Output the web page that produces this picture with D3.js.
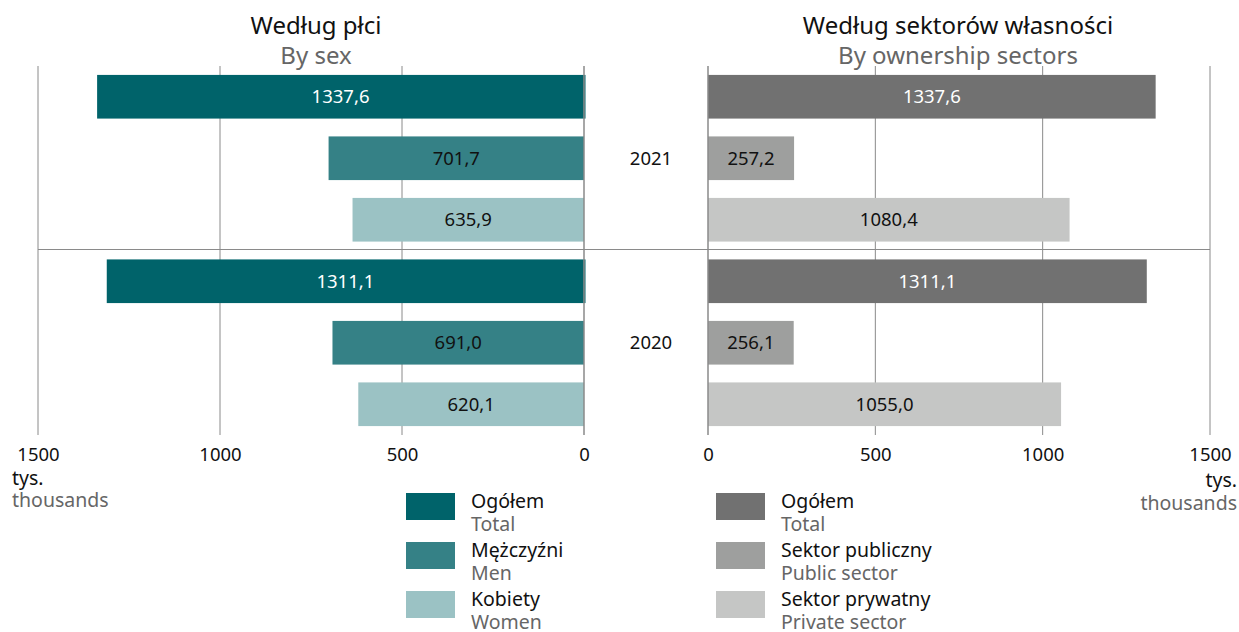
<!DOCTYPE html>
<html lang="pl">
<head>
<meta charset="utf-8">
<title>Pracujący</title>
<script src="https://d3js.org/d3.v7.min.js"></script>
<style>
  body { margin: 0; background: #fff; }
  text { font-family: "Noto Sans", "Open Sans", sans-serif; }
</style>
</head>
<body>
<svg id="chart" width="1239" height="632"></svg>
<script>
// data
var years = ["2021", "2020"];
var sexKeys = ["Ogółem", "Mężczyźni", "Kobiety"];
var sexKeysEn = ["Total", "Men", "Women"];
var sectorKeys = ["Ogółem", "Sektor publiczny", "Sektor prywatny"];
var sectorKeysEn = ["Total", "Public sector", "Private sector"];
var sex2021 = [1337.6, 701.7, 635.9];
var sex2020 = [1311.1, 691.0, 620.1];
var sector2021 = [1337.6, 257.2, 1080.4];
var sector2020 = [1311.1, 256.1, 1055.0];
var ticks = [0, 500, 1000, 1500];

var sexColors = ["#00636a", "#358186", "#9bc2c4"];
var sectorColors = ["#717171", "#9e9f9e", "#c5c6c5"];

var svg = d3.select("#chart");
var fmt = function(v) { return d3.format(".1f")(v).replace(".", ","); };
var fs = 18.5;

// rows: year x category
var rows = [];
years.forEach(function(y) {
  sexKeys.forEach(function(k, i) { rows.push(y + "|" + i); });
});

var yScale = d3.scaleBand().domain(rows).range([66, 435]).paddingInner(0.29).paddingOuter(0.145);

var xLeft = d3.scaleLinear().domain([0, 1500]).range([584, 38]);
var xRight = d3.scaleLinear().domain([0, 1500]).range([708, 1210]);

var gridColor = "#8a8a8a";

// grid lines
[xLeft, xRight].forEach(function(x) {
  svg.append("g").selectAll("line").data(ticks.filter(function(t){ return t > 0; })).join("line")
    .attr("x1", function(d){ return x(d); }).attr("x2", function(d){ return x(d); })
    .attr("y1", 66).attr("y2", 435)
    .attr("stroke", gridColor).attr("stroke-width", 1);
});

// horizontal separator
svg.append("line").attr("x1", 38).attr("x2", 1210).attr("y1", 249.5).attr("y2", 249.5)
  .attr("stroke", gridColor).attr("stroke-width", 1);

function drawPanel(x, data, colors, left) {
  var g = svg.append("g");
  var items = [];
  years.forEach(function(y, yi) {
    data[yi].forEach(function(v, i) {
      items.push({ key: y + "|" + i, v: v, i: i });
    });
  });
  g.selectAll("rect").data(items).join("rect")
    .attr("x", function(d){ return left ? x(d.v) : x(0); })
    .attr("width", function(d){ return Math.abs(x(d.v) - x(0)) + (d.i === 0 && left ? 1.5 : 0); })
    .attr("y", function(d){ return yScale(d.key); })
    .attr("height", yScale.bandwidth())
    .attr("fill", function(d){ return colors[d.i]; });
  g.selectAll("text").data(items).join("text")
    .attr("x", function(d){ return (x(d.v) + x(0)) / 2; })
    .attr("y", function(d){ return yScale(d.key) + yScale.bandwidth() / 2; })
    .attr("dy", "0.35em")
    .attr("text-anchor", "middle")
    .attr("font-size", fs)
    .attr("fill", function(d){ return d.i === 0 ? "#ffffff" : "#111"; })
    .text(function(d){ return fmt(d.v); });
  // zero axis
  g.append("line").attr("x1", x(0)).attr("x2", x(0)).attr("y1", 66).attr("y2", 435)
    .attr("stroke", gridColor).attr("stroke-width", 1.5);
  // tick labels
  var axis = d3.axisBottom(x).tickValues(ticks).tickFormat(d3.format("d")).tickSize(0).tickPadding(0);
  var ax = svg.append("g").attr("transform", "translate(0,448)").call(axis);
  ax.select(".domain").remove();
  ax.selectAll("text").attr("font-size", fs).attr("fill", "#111")
    .attr("font-family", "'Noto Sans', sans-serif").attr("dy", "0.71em");
}

drawPanel(xLeft, [sex2021, sex2020], sexColors, true);
drawPanel(xRight, [sector2021, sector2020], sectorColors, false);

// year labels
years.forEach(function(y) {
  var top = yScale(y + "|0"), bot = yScale(y + "|2") + yScale.bandwidth();
  svg.append("text").attr("x", 651).attr("y", (top + bot) / 2).attr("dy", "0.35em")
    .attr("text-anchor", "middle").attr("font-size", fs).attr("fill", "#111").text(y);
});

// titles
function title(cx, pl, en) {
  svg.append("text").attr("x", cx).attr("y", 34).attr("text-anchor", "middle")
    .attr("font-size", 24).attr("fill", "#111").text(pl);
  svg.append("text").attr("x", cx).attr("y", 64).attr("text-anchor", "middle")
    .attr("font-size", 24).attr("fill", "#666").text(en);
}
title(316, "Według płci", "By sex");
title(958, "Według sektorów własności", "By ownership sectors");

// units
svg.append("text").attr("x", 12).attr("y", 485).attr("font-size", 19.5).attr("fill", "#111").text("tys.");
svg.append("text").attr("x", 12).attr("y", 507).attr("font-size", 19.5).attr("fill", "#666").text("thousands");
svg.append("text").attr("x", 1237).attr("y", 487).attr("text-anchor", "end").attr("font-size", 19.5).attr("fill", "#111").text("tys.");
svg.append("text").attr("x", 1237).attr("y", 510).attr("text-anchor", "end").attr("font-size", 19.5).attr("fill", "#666").text("thousands");

// legends
function legend(x0, keys, keysEn, colors) {
  var g = svg.append("g");
  keys.forEach(function(k, i) {
    var y0 = 493 + i * 49;
    g.append("rect").attr("x", x0).attr("y", y0).attr("width", 49).attr("height", 27).attr("fill", colors[i]);
    g.append("text").attr("x", x0 + 65).attr("y", y0 + 15).attr("font-size", 19.5).attr("fill", "#111").text(k);
    g.append("text").attr("x", x0 + 65).attr("y", y0 + 38).attr("font-size", 19.5).attr("fill", "#666").text(keysEn[i]);
  });
}
legend(406, sexKeys, sexKeysEn, sexColors);
legend(716, sectorKeys, sectorKeysEn, sectorColors);
</script>
</body>
</html>
